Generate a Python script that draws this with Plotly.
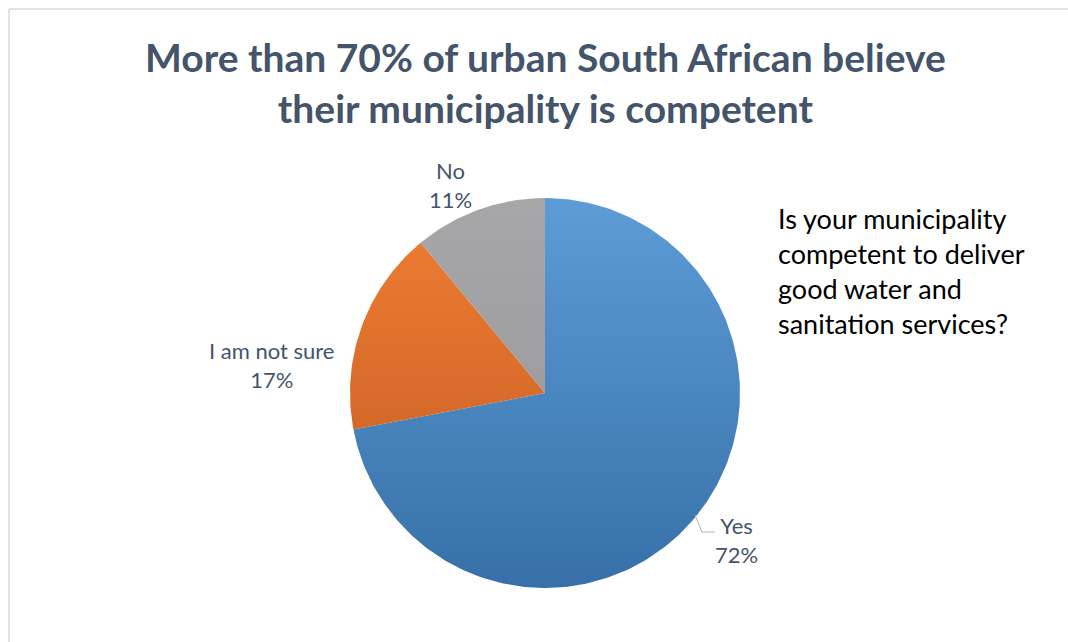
import numpy as np
import plotly.graph_objects as go

# Survey answers and their shares (percent)
answers = ["Yes", "I am not sure", "No"]
shares = [72, 17, 11]
# light (top) and dark (bottom) tone of each slice
slice_top = ["#5d9cd6", "#ef7e32", "#a7a7a9"]
slice_bottom = ["#3770a8", "#c25a25", "#949496"]

# Where each answer's label sits (pixel coordinates)
label_x = [736, 272, 450]
label_y = [540, 365, 185]

W, H = 1068, 642
cx, cy, r = 545, 393, 195

fig = go.Figure()

# Pie slices, clockwise from 12 o'clock, shaded top-to-bottom
total = sum(shares)
start = 0.0
for name, val, c0, c1 in zip(answers, shares, slice_top, slice_bottom):
    a0 = start / total * 2 * np.pi
    a1 = (start + val) / total * 2 * np.pi
    t = np.linspace(a0, a1, max(int(val * 4), 12))
    xs = np.concatenate([[cx], cx + r * np.sin(t), [cx]])
    ys = np.concatenate([[cy], cy - r * np.cos(t), [cy]])
    fig.add_trace(
        go.Scatter(
            x=xs, y=ys, mode="lines", fill="toself",
            line=dict(width=0, color=c0),
            fillgradient=dict(
                type="vertical", start=cy - r, stop=cy + r,
                colorscale=[[0, c0], [1, c1]],
            ),
            name=name, hoveron="fills", hoverinfo="name", showlegend=False,
        )
    )
    start += val

label_font = dict(family="Lato, 'Open Sans', sans-serif", size=22, color="#44546a")
for name, val, lx, ly in zip(answers, shares, label_x, label_y):
    fig.add_annotation(
        x=lx, y=ly, text=f"{name}<br>{val}%", showarrow=False, font=label_font,
        align="center", xanchor="center", yanchor="middle",
    )

# Leader line for the "Yes" label
fig.add_shape(
    type="path", path="M 695,515 L 702,532 L 715,532",
    line=dict(color="#aab6c6", width=1),
)

# Side question
fig.add_annotation(
    x=776, y=200, text="Is your municipality<br>competent to deliver<br>good water and<br>sanitation services?",
    showarrow=False, align="left", xanchor="left", yanchor="top",
    font=dict(family="Lato, 'Open Sans', sans-serif", size=27, color="#000000"),
)

# Title
fig.add_annotation(
    x=545, y=82, text="More than 70% of urban South African believe<br>their municipality is competent",
    showarrow=False, align="center", xanchor="center", yanchor="middle",
    font=dict(family="Lato, 'Open Sans', sans-serif", size=39, color="#44546a", weight="bold"),
)

# Chart frame: top and left edges only (the rest runs off the page)
frame = dict(color="#dfe3e9", width=2)
fig.add_shape(type="line", xref="paper", yref="paper",
              x0=9 / W, x1=1, y0=1 - 9 / H, y1=1 - 9 / H, line=frame, layer="below")
fig.add_shape(type="line", xref="paper", yref="paper",
              x0=9 / W, x1=9 / W, y0=0, y1=1 - 9 / H, line=frame, layer="below")

fig.update_layout(
    width=W, height=H,
    margin=dict(l=0, r=0, t=0, b=0),
    paper_bgcolor="#ffffff", plot_bgcolor="#ffffff",
    xaxis=dict(range=[0, W], visible=False, fixedrange=True),
    yaxis=dict(range=[H, 0], visible=False, fixedrange=True),
    showlegend=False,
)

fig.write_html("out.html")
